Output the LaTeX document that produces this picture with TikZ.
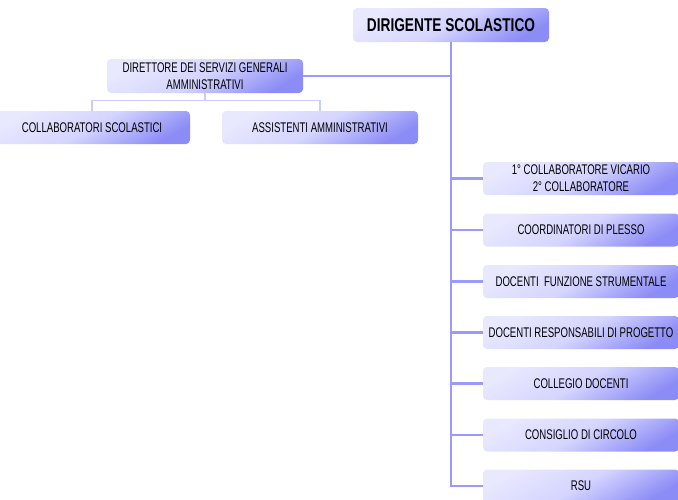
\documentclass[tikz,border=0pt]{standalone}
\usepackage{fontspec}
\setmainfont[FakeStretch=0.685]{Liberation Sans}
\newfontfamily\titlefont[FakeStretch=0.74]{Liberation Sans}
\usepackage{tikz}

\definecolor{lavlight}{HTML}{E8E8FF}
\definecolor{lavmid}{HTML}{D4D4FF}
\definecolor{lavdark}{HTML}{8C8CF6}
\definecolor{trunk}{HTML}{9999FF}
\definecolor{twig}{HTML}{CCCCF8}

\tikzset{
  ufficio/.style={rounded corners=4pt, minimum width=196pt, minimum height=33pt,
    inner sep=1pt, align=center, font=\fontsize{14}{17}\selectfont,
    top color=lavlight, bottom color=lavdark, middle color=lavmid, shading angle=30},
  ramo/.style={draw=trunk, line width=2.8pt},
  rametto/.style={draw=twig, line width=1.4pt}
}

\begin{document}
\begin{tikzpicture}[x=1pt,y=-1pt]
\useasboundingbox (0,0) rectangle (678,499);

\node[ufficio, minimum height=34pt, font=\titlefont\fontsize{18.5}{18}\selectfont\bfseries] (ds) at (451,25) {DIRIGENTE SCOLASTICO};
\node[ufficio, minimum height=34pt] (dsga) at (205,76) {DIRETTORE DEI SERVIZI GENERALI\\AMMINISTRATIVI};
\node[ufficio] (cs) at (92,127.5) {COLLABORATORI SCOLASTICI};
\node[ufficio] (aa) at (320,127.5) {ASSISTENTI AMMINISTRATIVI};

\node[ufficio] (r1) at (581,178.5) {1° COLLABORATORE VICARIO\\2° COLLABORATORE};
\node[ufficio] (r2) at (581,230) {COORDINATORI DI PLESSO};
\node[ufficio] (r3) at (581,281.5) {DOCENTI \ FUNZIONE STRUMENTALE};
\node[ufficio] (r4) at (581,332.5) {DOCENTI RESPONSABILI DI PROGETTO};
\node[ufficio] (r5) at (581,383.5) {COLLEGIO DOCENTI};
\node[ufficio] (r6) at (581,435) {CONSIGLIO DI CIRCOLO};
\node[ufficio] (r7) at (581,486) {RSU};

\draw[rametto] (dsga.south) -- ++(0,7) -| (cs.north);
\draw[rametto] (dsga.south) -- ++(0,7) -| (aa.north);

\draw[ramo] (ds.south) |- (dsga.east);
\foreach \r in {r1,r2,r3,r4,r5,r6,r7}
  \draw[ramo] (ds.south) |- (\r.west);
\end{tikzpicture}
\end{document}
